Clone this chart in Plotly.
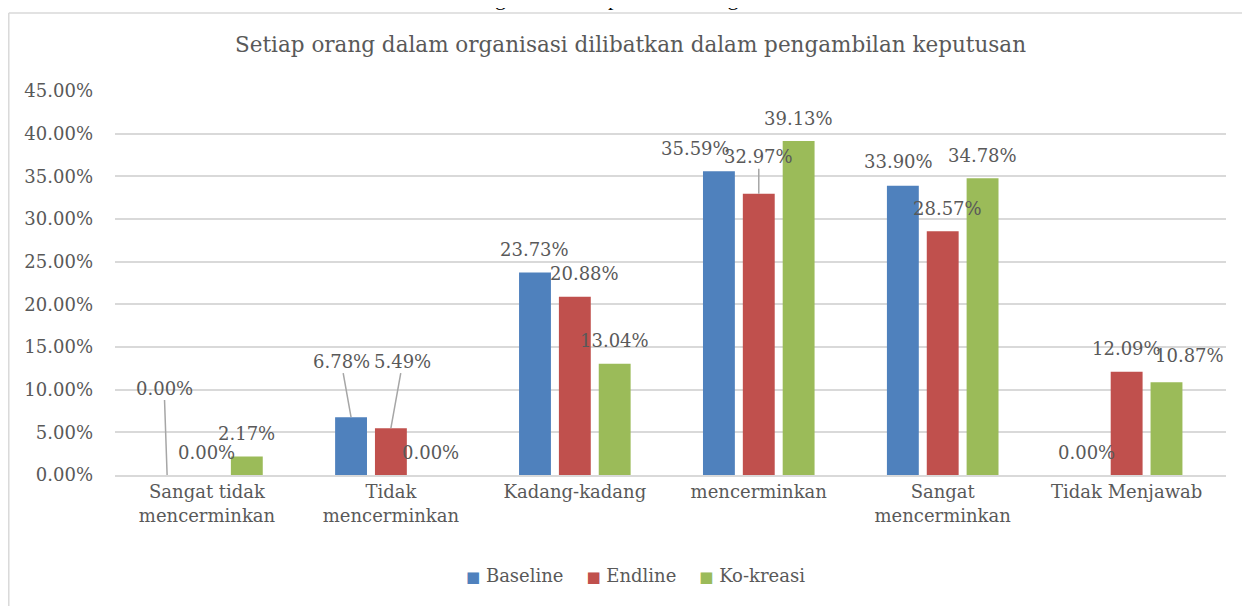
import plotly.graph_objects as go

categories = ["Sangat tidak<br>mencerminkan", "Tidak<br>mencerminkan", "Kadang-kadang",
              "mencerminkan", "Sangat<br>mencerminkan", "Tidak Menjawab"]
series_names = ["Baseline", "Endline", "Ko-kreasi"]
baseline = [0.00, 6.78, 23.73, 35.59, 33.90, 0.00]
endline = [0.00, 5.49, 20.88, 32.97, 28.57, 12.09]
kokreasi = [2.17, 0.00, 13.04, 39.13, 34.78, 10.87]
y_ticks = [0, 5, 10, 15, 20, 25, 30, 35, 40, 45]

colors = ["#4F81BD", "#C0504D", "#9BBB59"]
FONT = "DejaVu Serif"
TXT = "#595959"
BARGAP = 0.35
BARGROUPGAP = 0.2

# label placement overrides (series index, category index) -> (dx px, dy px, leader)
label_style = {
    (0, 0): (-3, -87, True),
    (0, 1): (-10, -56, True),
    (1, 1): (12, -67, True),
    (1, 2): (10, -23, False),
    (0, 3): (-23, -23, False),
    (1, 3): (0, -37, True),
    (0, 4): (-4, -24, False),
    (1, 4): (5, -23, False),
    (2, 5): (23, -27, False),
}

fig = go.Figure()
all_vals = [baseline, endline, kokreasi]
for name, vals, c in zip(series_names, all_vals, colors):
    fig.add_trace(go.Bar(name=name, x=categories, y=vals, marker_color=c,
                         marker_line_width=0, showlegend=False))

slot = (1 - BARGAP) / 3
annotations = []
for si, vals in enumerate(all_vals):
    for ci, v in enumerate(vals):
        xpos = ci + (si - 1) * slot
        dx, dy, leader = label_style.get((si, ci), (0, -23, False))
        txt = f"{v:.2f}%"
        if leader:
            annotations.append(dict(x=xpos, y=v, xref="x", yref="y", text=txt,
                                    showarrow=True, arrowhead=0, arrowwidth=1.5,
                                    arrowcolor="#A6A6A6", ax=dx, ay=dy, standoff=0,
                                    font=dict(family=FONT, size=18, color=TXT)))
        else:
            annotations.append(dict(x=xpos, y=v, xref="x", yref="y", text=txt,
                                    showarrow=False, xshift=dx, yshift=-dy,
                                    font=dict(family=FONT, size=18, color=TXT)))

# chart title and the clipped heading above the chart box
annotations.append(dict(x=0.4644, y=1.1198, xref="paper", yref="paper", xanchor="center",
                        yanchor="middle", showarrow=False,
                        text="Setiap orang dalam organisasi dilibatkan dalam pengambilan keputusan",
                        font=dict(family=FONT, size=21.5, color=TXT)))
annotations.append(dict(x=0.4635, y=1.205, xref="paper", yref="paper", xanchor="center",
                        yanchor="bottom", showarrow=False,
                        text="Pengambilan Keputusan di Organisasi",
                        font=dict(family="Liberation Serif", size=22, color="#000000")))

# legend drawn as text: coloured squares + series names
legend_text = "&nbsp;&nbsp;&nbsp;&nbsp;".join(
    f"<span style='color:{c};font-size:15px'>■</span> {n}" for n, c in zip(series_names, colors))
annotations.append(dict(x=0.4685, y=-0.263, xref="paper", yref="paper", xanchor="center",
                        yanchor="middle", showarrow=False, text=legend_text,
                        font=dict(family=FONT, size=18, color=TXT)))

fig.update_layout(
    width=1250, height=606,
    margin=dict(l=107, r=32, t=83, b=139),
    paper_bgcolor="white", plot_bgcolor="white",
    barmode="group", bargap=BARGAP, bargroupgap=BARGROUPGAP,
    font=dict(family=FONT, size=18, color=TXT),
    showlegend=False,
    annotations=annotations,
    shapes=[
        dict(type="line", xref="paper", yref="paper", x0=-0.0956, x1=1.05,
             y0=1.2031, y1=1.2031, line=dict(color="#D9D9D9", width=1.5)),
        dict(type="line", xref="paper", yref="paper", x0=-0.0956, x1=-0.0956,
             y0=1.2031, y1=-0.4, line=dict(color="#D9D9D9", width=1.5)),
    ],
)
fig.update_xaxes(showline=True, linecolor="#D9D9D9", linewidth=1.5, ticks="",
                 tickfont=dict(family=FONT, size=18, color=TXT), showgrid=False)
fig.update_yaxes(range=[0, 45], tickvals=y_ticks,
                 ticktext=[f"{t:.2f}%" for t in y_ticks],
                 showgrid=True, gridcolor="#D9D9D9", gridwidth=1.5,
                 zeroline=False, ticks="", ticklabelstandoff=21,
                 tickfont=dict(family=FONT, size=18, color=TXT))

fig.write_html("out.html")
